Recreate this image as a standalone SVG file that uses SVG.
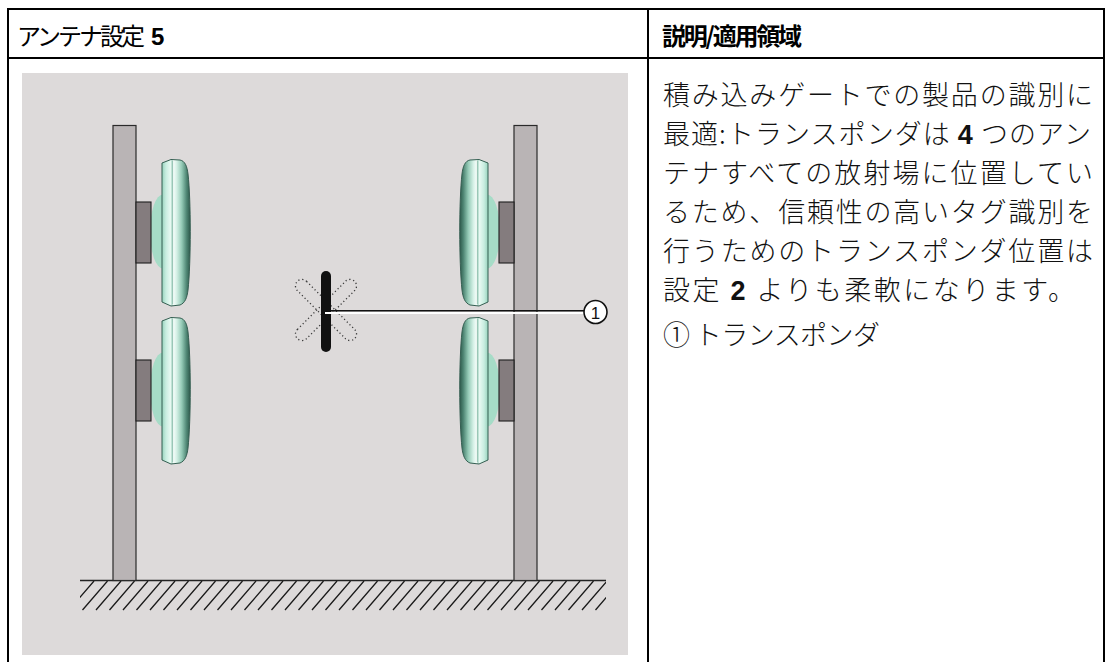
<svg xmlns="http://www.w3.org/2000/svg" xmlns:xlink="http://www.w3.org/1999/xlink" width="1112" height="662" viewBox="0 0 1112 662">
  <style>
    .rule { stroke: #000; stroke-width: 2; fill: none; }
    .hdr { font-family: "Noto Sans CJK JP", "Liberation Sans", sans-serif; font-size: 24px; fill: #000; }
    .hdr-b { font-weight: bold; }
    .num { font-family: "Liberation Sans", Arial, sans-serif; font-weight: bold; }
    .body { font-family: "Noto Sans CJK JP", "Liberation Sans", sans-serif; font-size: 27px; font-weight: 300; fill: #111; }
    .post { fill: #b9b4b5; stroke: #2a2a2a; stroke-width: 1.2; }
    .mount { fill: #847c7e; stroke: #1e1e1e; stroke-width: 1.1; }
    .dome { fill: #a6dcc7; }
    .panel { fill: url(#panelShade); stroke: #355f52; stroke-width: 1; }
    .seam { stroke: #8cbcab; stroke-width: 0.8; }
    .ground { stroke: #222; stroke-width: 1.4; fill: none; }
    .hatch { stroke: #1a1a1a; stroke-width: 1.3; fill: none; }
    .ghost { fill: none; stroke: #3a3a3a; stroke-width: 1.3; stroke-dasharray: 1.2 2.6; }
  </style>
  <defs>
    <linearGradient id="panelShade" x1="0" y1="0" x2="1" y2="0">
      <stop offset="0" stop-color="#98d3bd"/>
      <stop offset="0.14" stop-color="#c8ede0"/>
      <stop offset="0.3" stop-color="#e8f9f2"/>
      <stop offset="0.36" stop-color="#a7d3c3"/>
      <stop offset="0.4" stop-color="#f6fdfa"/>
      <stop offset="0.52" stop-color="#d5f0e6"/>
      <stop offset="0.7" stop-color="#94cab6"/>
      <stop offset="0.87" stop-color="#4f8674"/>
      <stop offset="1" stop-color="#2c584a"/>
    </linearGradient>
    <clipPath id="hatchClip">
      <rect x="80" y="581" width="526" height="30"/>
    </clipPath>
    <!-- one antenna facing right, mounted on the left post -->
    <g id="antenna">
      <ellipse class="dome" cx="163" cy="231.5" rx="13" ry="37"/>
      <rect class="mount" x="136" y="202" width="15" height="61"/>
      <path class="panel" d="M162,163 L171,159.5 L180,160 C185,161 187,166 188,174 C191,200 191,262 188,290 C187,298 185,303 180,305 L171,306 L162,302 Z"/>
      <line class="seam" x1="172.6" y1="161" x2="172.6" y2="304"/>
    </g>
  </defs>

  <!-- table frame -->
  <g id="table">
    <path class="rule" d="M8,662 V9 H1104 V662 M648,9 V662 M8,58 H1104"/>
    <text class="hdr" x="17" y="45" textLength="128" lengthAdjust="spacing">アンテナ設定</text>
    <text class="hdr num" x="151" y="45">5</text>
    <text class="hdr hdr-b" x="662" y="45" textLength="140" lengthAdjust="spacing">説明/適用領域</text>
  </g>

  <!-- illustration panel -->
  <g id="scene">
    <rect x="22" y="73" width="606" height="582" fill="#dddada"/>

    <g id="ground">
      <line class="ground" x1="80" y1="580.5" x2="606" y2="580.5"/>
      <path class="hatch" clip-path="url(#hatchClip)" d="M94,581l-25,29 M107.5,581l-25,29 M121,581l-25,29 M134.5,581l-25,29 M148,581l-25,29 M161.5,581l-25,29 M175,581l-25,29 M188.5,581l-25,29 M202,581l-25,29 M215.5,581l-25,29 M229,581l-25,29 M242.5,581l-25,29 M256,581l-25,29 M269.5,581l-25,29 M283,581l-25,29 M296.5,581l-25,29 M310,581l-25,29 M323.5,581l-25,29 M337,581l-25,29 M350.5,581l-25,29 M364,581l-25,29 M377.5,581l-25,29 M391,581l-25,29 M404.5,581l-25,29 M418,581l-25,29 M431.5,581l-25,29 M445,581l-25,29 M458.5,581l-25,29 M472,581l-25,29 M485.5,581l-25,29 M499,581l-25,29 M512.5,581l-25,29 M526,581l-25,29 M539.5,581l-25,29 M553,581l-25,29 M566.5,581l-25,29 M580,581l-25,29 M593.5,581l-25,29 M607,581l-25,29 M620.5,581l-25,29"/>
    </g>

    <g id="post-left">
      <rect class="post" x="113" y="125.5" width="23" height="455"/>
    </g>
    <g id="post-right">
      <rect class="post" x="514" y="125.5" width="23" height="455"/>
    </g>

    <g id="antenna-left-top"><use xlink:href="#antenna"/></g>
    <g id="antenna-left-bottom"><use xlink:href="#antenna" transform="translate(0,158)"/></g>
    <g id="antenna-right-top"><use xlink:href="#antenna" transform="translate(650,0) scale(-1,1)"/></g>
    <g id="antenna-right-bottom"><use xlink:href="#antenna" transform="translate(650,158) scale(-1,1)"/></g>

    <g id="transponder">
      <rect class="ghost" x="-40.5" y="-6.5" width="81" height="13" rx="6.5" transform="translate(326,310) rotate(45)"/>
      <rect class="ghost" x="-40.5" y="-6.5" width="81" height="13" rx="6.5" transform="translate(326,310) rotate(-45)"/>
      <rect x="321" y="271" width="10" height="81" rx="5" fill="#111"/>
    </g>

    <g id="connectors">
      <line x1="325" y1="313" x2="584" y2="313" stroke="#fff" stroke-width="2.2"/>
      <line x1="325" y1="310.8" x2="584" y2="310.8" stroke="#111" stroke-width="1.6"/>
    </g>

    <g id="callout-1">
      <circle cx="595.5" cy="312" r="11.5" fill="#fff" stroke="#111" stroke-width="1.6"/>
      <text x="595.5" y="318.5" text-anchor="middle" font-family="Liberation Sans, Arial, sans-serif" font-size="17" fill="#111">1</text>
    </g>
  </g>

  <!-- description column -->
  <g id="description">
    <text class="body" x="663" y="105" textLength="430" lengthAdjust="spacing">積み込みゲートでの製品の識別に</text>
    <text class="body" x="663" y="144" textLength="428" lengthAdjust="spacing">最適:トランスポンダは <tspan class="num">4</tspan> つのアン</text>
    <text class="body" x="663" y="183" textLength="430" lengthAdjust="spacing">テナすべての放射場に位置してい</text>
    <text class="body" x="663" y="222" textLength="430" lengthAdjust="spacing">るため、信頼性の高いタグ識別を</text>
    <text class="body" x="663" y="261" textLength="430" lengthAdjust="spacing">行うためのトランスポンダ位置は</text>
    <text class="body" x="663" y="300" textLength="412" lengthAdjust="spacing">設定 <tspan class="num">2</tspan> よりも柔軟になります。</text>
    <text class="body" x="663" y="345" textLength="217" lengthAdjust="spacing">① トランスポンダ</text>
  </g>
</svg>
